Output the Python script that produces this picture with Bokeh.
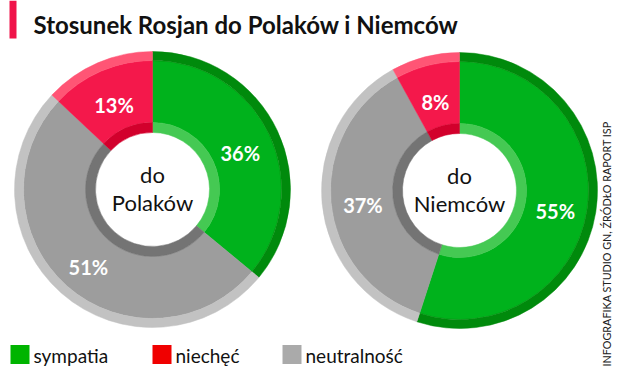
import math
from bokeh.plotting import figure
from bokeh.models import Range1d, ColumnDataSource
from bokeh.core.properties import value
from bokeh.embed import file_html
from bokeh.resources import INLINE

# ---- data ----
categories = ["sympatia", "neutralność", "niechęć"]
polacy = [36, 51, 13]
niemcy = [55, 37, 8]
donut_titles = [["do", "Polaków"], ["do", "Niemców"]]
title = "Stosunek Rosjan do Polaków i Niemców"
source_note = "INFOGRAFIKA STUDIO GN, ŹRÓDŁO RAPORT ISP"

# ---- styles ----
main_col = {"sympatia": "#00b21c", "neutralność": "#9d9d9d", "niechęć": "#f4184b"}
rim_col = {"sympatia": "#008a0c", "neutralność": "#c2c2c2", "niechęć": "#ff5575"}
inner_col = {"sympatia": "#45c953", "neutralność": "#747474", "niechęć": "#d2002c"}
legend_col = {"sympatia": "#00b400", "niechęć": "#f00000", "neutralność": "#aaaaaa"}

W, H = 617, 370
p = figure(width=W, height=H, output_backend="svg", toolbar_location=None,
           x_range=Range1d(0, W), y_range=Range1d(0, H), min_border=0)
p.axis.visible = False
p.grid.visible = False
p.outline_line_color = None
p.background_fill_color = "white"

FONT = value("Lato")

def Y(y):
    return H - y

# title
p.rect(x=[12.5], y=[Y(19)], width=7, height=38, fill_color="#f0144a", line_color=None)
p.text(x=[33], y=[Y(24)], text=[title], text_font=FONT, text_font_style="bold",
       text_font_size="24px", text_color="#111111", text_baseline="middle", text_align="left")

centers = [(152, 189), (459, 190)]
R_OUT, R_RIM, R_IN2, R_IN = 138, 129, 67, 57
lab_r = 97

for (cx, cy), vals, ttl in zip(centers, [polacy, niemcy], donut_titles):
    total = sum(vals)
    starts, ends = [], []
    acc = 0
    for v in vals:
        starts.append(math.pi / 2 - 2 * math.pi * acc / total)
        acc += v
        ends.append(math.pi / 2 - 2 * math.pi * acc / total)
    src = ColumnDataSource(dict(
        start=starts, end=ends,
        main=[main_col[c] for c in categories],
        rim=[rim_col[c] for c in categories],
        inner=[inner_col[c] for c in categories]))
    x0, y0 = cx, Y(cy)
    p.annular_wedge(x=x0, y=y0, inner_radius=R_IN2, outer_radius=R_RIM, start_angle="start",
                    end_angle="end", direction="clock", fill_color="main", line_color="main",
                    line_width=0.5, source=src)
    p.annular_wedge(x=x0, y=y0, inner_radius=R_RIM, outer_radius=R_OUT, start_angle="start",
                    end_angle="end", direction="clock", fill_color="rim", line_color="rim",
                    line_width=0.5, source=src)
    p.annular_wedge(x=x0, y=y0, inner_radius=R_IN, outer_radius=R_IN2, start_angle="start",
                    end_angle="end", direction="clock", fill_color="inner", line_color="inner",
                    line_width=0.5, source=src)
    # labels
    mids = [(s + e) / 2 for s, e in zip(starts, ends)]
    lx = [x0 + lab_r * math.cos(m) for m in mids]
    ly = [y0 + lab_r * math.sin(m) - 5 for m in mids]
    p.text(x=lx, y=ly, text=[f"{v}%" for v in vals], text_font=FONT, text_font_style="bold",
           text_font_size="20px", text_color="white", text_align="center", text_baseline="middle")
    p.text(x=[x0, x0], y=[y0 + 15, y0 - 13], text=ttl, text_font=FONT,
           text_font_size="22px", text_color="#111111", text_align="center", text_baseline="middle")

# legend
leg_x = [10, 152, 282]
leg_order = ["sympatia", "niechęć", "neutralność"]
p.rect(x=[x + 9.5 for x in leg_x], y=[Y(354)] * 3, width=19, height=19,
       fill_color=[legend_col[c] for c in leg_order], line_color=None)
p.text(x=[x + 23 for x in leg_x], y=[Y(355)] * 3, text=leg_order, text_font=FONT,
       text_font_size="19px", text_color="#111111", text_align="left", text_baseline="middle")

# source note
p.text(x=[606], y=[Y(366)], text=[source_note], angle=math.pi / 2, text_font=FONT,
       text_font_size="10.8px", text_color="#222222", text_align="left", text_baseline="middle")

open("out.html", "w").write(file_html(p, INLINE))
